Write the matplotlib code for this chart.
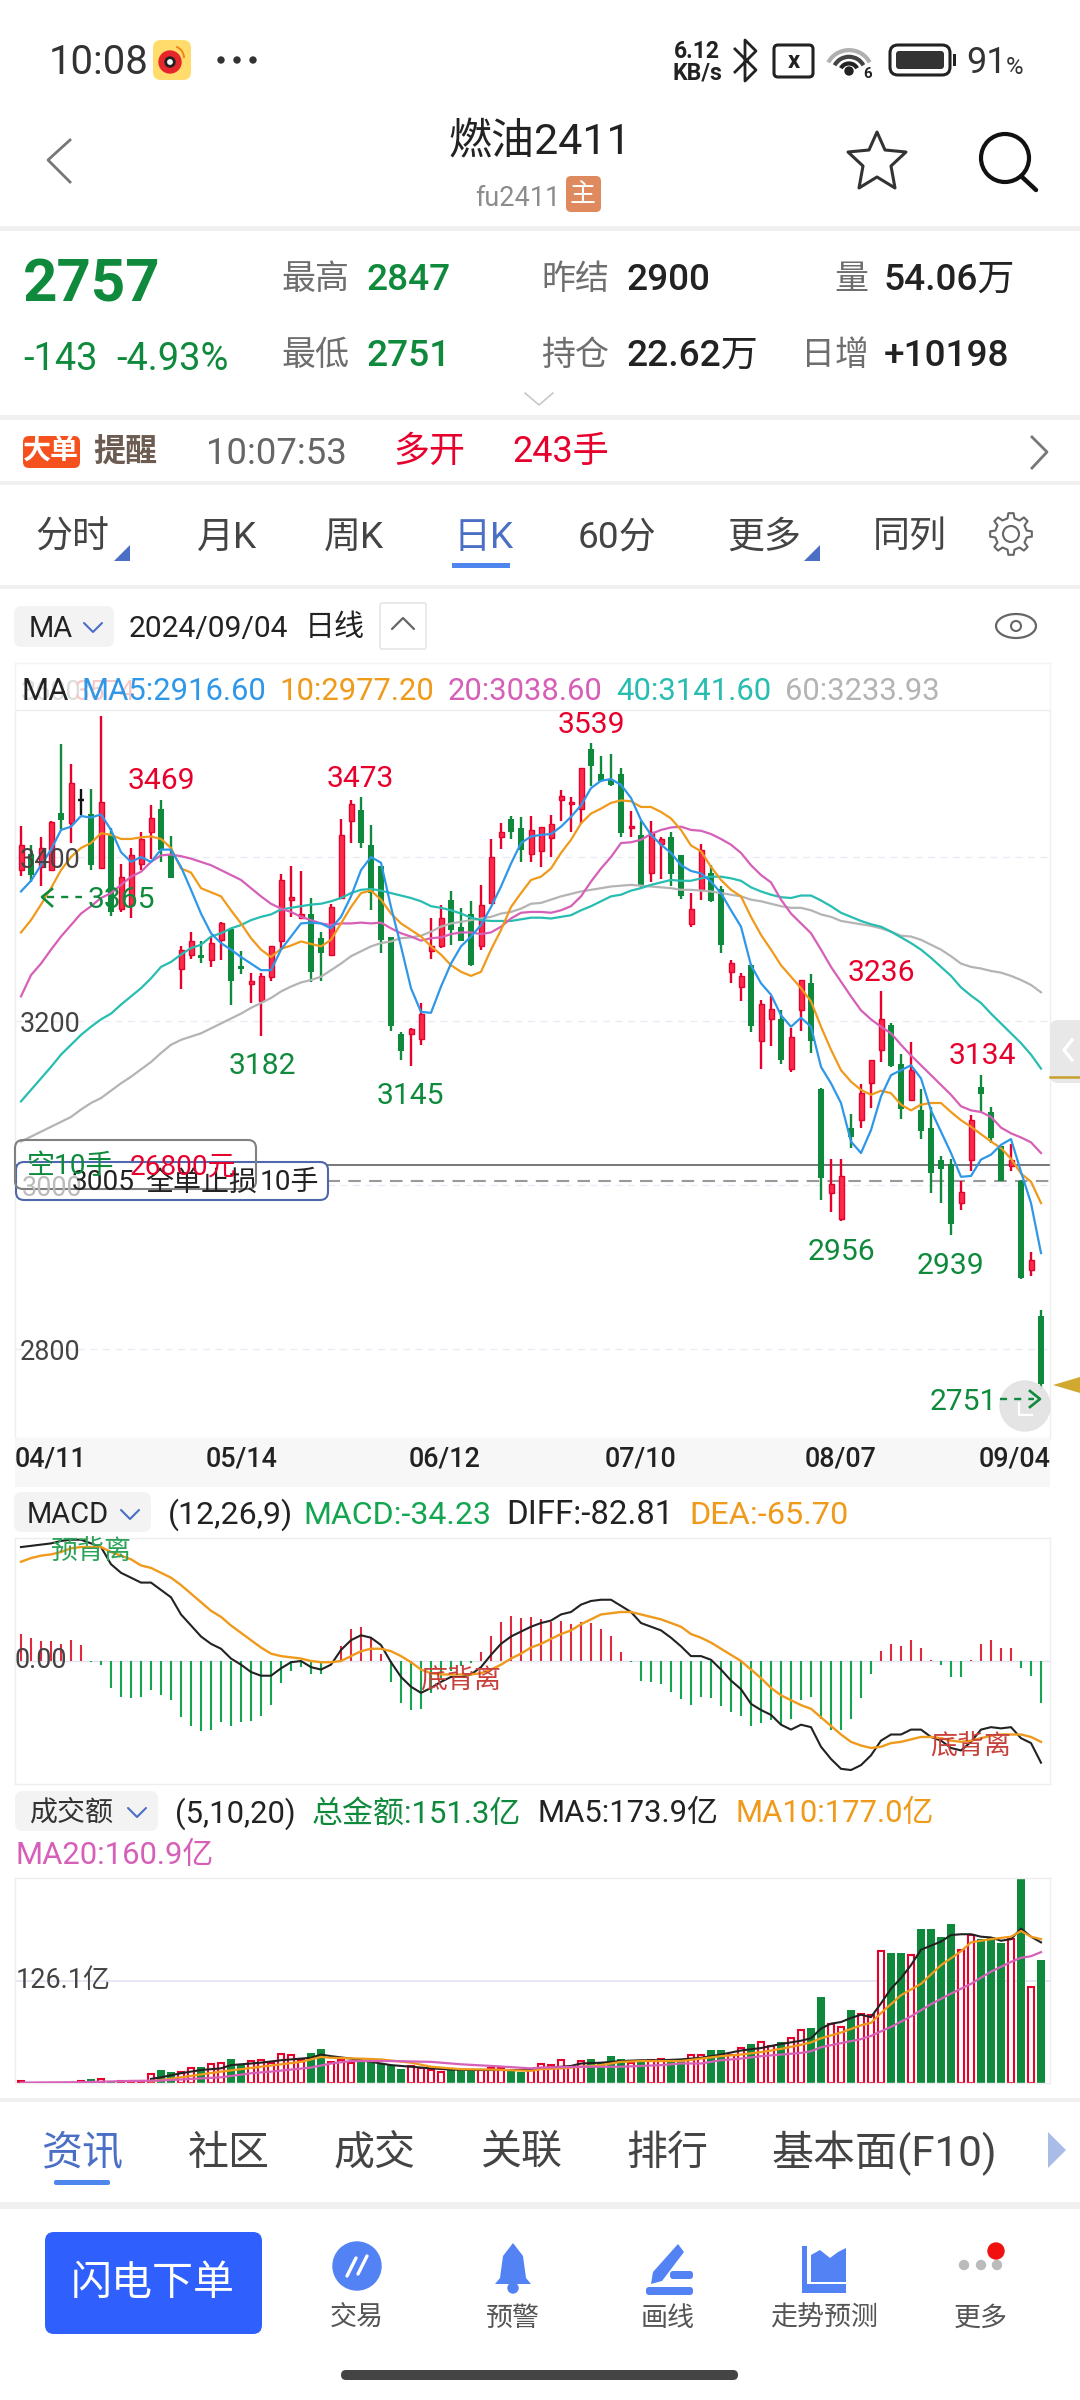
import math

import matplotlib
matplotlib.use('Agg')
import matplotlib.pyplot as plt
from matplotlib.patches import Arc, Circle, FancyBboxPatch, Polygon, Rectangle

plt.rcParams['font.family'] = ['Roboto', 'Noto Sans CJK SC', 'DejaVu Sans']

W, H = 1080, 2400

# daily candles
opens = [3384, 3404, 3388, 3384, 3454, 3441, 3470, 3453, 3387, 3427,
         3337, 3341, 3392, 3430, 3458, 3404, 3264, 3280, 3280, 3275,
         3299, 3312, 3267, 3245, 3224, 3254, 3297, 3347, 3326, 3331,
         3301, 3281, 3350, 3444, 3457, 3415, 3389, 3303, 3184, 3184,
         3178, 3285, 3291, 3348, 3315, 3330, 3291, 3344, 3424, 3446,
         3435, 3404, 3407, 3423, 3469, 3465, 3459, 3532, 3501, 3494,
         3501, 3435, 3427, 3380, 3416, 3424, 3402, 3318, 3360, 3380,
         3361, 3260, 3241, 3268, 3176, 3203, 3202, 3142, 3213, 3246,
         3117, 2990, 2959, 3070, 3079, 3124, 3165, 3195, 3148, 3104,
         3092, 3069, 3031, 3026, 2978, 3030, 3120, 3089, 3047, 3023,
         3005, 2896, 2840]
closes = [3415, 3378, 3411, 3443, 3445, 3490, 3470, 3390, 3467, 3333,
          3376, 3402, 3422, 3447, 3409, 3375, 3287, 3298, 3277, 3295,
          3320, 3249, 3264, 3249, 3255, 3291, 3372, 3351, 3330, 3260,
          3283, 3339, 3427, 3465, 3417, 3356, 3299, 3194, 3163, 3190,
          3209, 3291, 3326, 3311, 3298, 3268, 3341, 3400, 3431, 3430,
          3408, 3433, 3436, 3440, 3474, 3467, 3509, 3511, 3493, 3488,
          3429, 3438, 3365, 3430, 3422, 3379, 3352, 3336, 3409, 3346,
          3293, 3271, 3255, 3194, 3221, 3215, 3152, 3180, 3250, 3176,
          3009, 3001, 3011, 3059, 3112, 3152, 3203, 3145, 3093, 3140,
          3066, 3015, 3020, 2952, 2991, 3079, 3111, 3057, 3005, 3030,
          2886, 2909, 2757]
highs = [3438, 3415, 3424, 3444, 3538, 3513, 3483, 3483, 3572, 3435,
         3392, 3411, 3430, 3464, 3469, 3426, 3291, 3309, 3297, 3302,
         3321, 3313, 3285, 3258, 3259, 3291, 3379, 3389, 3383, 3350,
         3309, 3343, 3446, 3469, 3473, 3439, 3389, 3303, 3186, 3191,
         3222, 3326, 3341, 3359, 3338, 3346, 3366, 3422, 3442, 3450,
         3449, 3450, 3437, 3451, 3482, 3473, 3509, 3539, 3523, 3526,
         3508, 3456, 3444, 3444, 3425, 3430, 3402, 3356, 3416, 3390,
         3365, 3275, 3259, 3269, 3226, 3230, 3214, 3192, 3250, 3257,
         3118, 3032, 3032, 3087, 3123, 3152, 3236, 3198, 3160, 3175,
         3117, 3095, 3035, 3032, 3005, 3085, 3134, 3095, 3048, 3050,
         3006, 2918, 2847]
lows = [3377, 3370, 3365, 3384, 3434, 3417, 3451, 3384, 3387, 3328,
        3333, 3326, 3384, 3398, 3394, 3375, 3239, 3276, 3271, 3266,
        3274, 3219, 3257, 3222, 3182, 3249, 3287, 3327, 3326, 3248,
        3249, 3281, 3350, 3417, 3411, 3335, 3283, 3188, 3152, 3145,
        3171, 3276, 3289, 3293, 3297, 3267, 3287, 3344, 3410, 3422,
        3394, 3394, 3388, 3400, 3444, 3431, 3440, 3486, 3492, 3486,
        3425, 3425, 3362, 3370, 3373, 3365, 3349, 3315, 3348, 3345,
        3283, 3246, 3225, 3187, 3142, 3170, 3148, 3138, 3188, 3161,
        2982, 2967, 2956, 3045, 3070, 3094, 3150, 3144, 3080, 3103,
        3056, 2990, 2978, 2939, 2969, 3017, 3089, 3051, 3005, 3017,
        2885, 2889, 2751]

ma5 = [3358, 3371, 3390, 3409, 3433, 3437, 3450, 3448, 3452, 3433,
       3406, 3394, 3400, 3394, 3409, 3409, 3388, 3360, 3331, 3307,
       3295, 3287, 3278, 3270, 3262, 3262, 3287, 3303, 3319, 3320,
       3319, 3313, 3327, 3352, 3384, 3400, 3393, 3339, 3291, 3240,
       3211, 3210, 3242, 3270, 3291, 3303, 3317, 3339, 3364, 3392,
       3417, 3425, 3427, 3428, 3437, 3449, 3463, 3484, 3493, 3495,
       3488, 3472, 3445, 3427, 3415, 3405, 3390, 3383, 3380, 3370,
       3356, 3335, 3315, 3268, 3246, 3232, 3207, 3193, 3204, 3193,
       3144, 3124, 3100, 3053, 3039, 3067, 3108, 3134, 3140, 3146,
       3130, 3091, 3065, 3039, 3010, 3011, 3031, 3037, 3049, 3056,
       3016, 2978, 2917]
ma10 = [3308, 3323, 3342, 3362, 3384, 3400, 3411, 3417, 3429, 3427,
        3422, 3422, 3424, 3425, 3422, 3411, 3386, 3381, 3362, 3357,
        3352, 3335, 3319, 3301, 3287, 3278, 3288, 3292, 3297, 3294,
        3291, 3299, 3319, 3339, 3356, 3359, 3348, 3331, 3319, 3311,
        3303, 3291, 3281, 3268, 3260, 3255, 3260, 3287, 3311, 3339,
        3356, 3372, 3376, 3386, 3405, 3421, 3441, 3453, 3459, 3466,
        3469, 3468, 3461, 3461, 3455, 3447, 3433, 3414, 3407, 3388,
        3372, 3360, 3352, 3327, 3305, 3287, 3268, 3254, 3240, 3224,
        3193, 3165, 3140, 3126, 3116, 3110, 3115, 3112, 3098, 3091,
        3098, 3100, 3100, 3089, 3079, 3071, 3062, 3053, 3045, 3032,
        3014, 3004, 2978]
ma20 = [3230, 3256, 3270, 3287, 3303, 3317, 3331, 3340, 3350, 3356,
        3366, 3376, 3382, 3394, 3402, 3403, 3401, 3398, 3394, 3390,
        3384, 3378, 3372, 3362, 3352, 3343, 3337, 3333, 3327, 3323,
        3319, 3317, 3319, 3319, 3320, 3319, 3320, 3313, 3307, 3303,
        3298, 3301, 3302, 3306, 3308, 3308, 3306, 3308, 3315, 3325,
        3332, 3333, 3333, 3332, 3335, 3340, 3352, 3370, 3386, 3400,
        3417, 3418, 3421, 3428, 3433, 3436, 3437, 3433, 3432, 3428,
        3422, 3415, 3405, 3390, 3378, 3369, 3348, 3331, 3319, 3307,
        3287, 3266, 3248, 3230, 3213, 3202, 3193, 3185, 3171, 3158,
        3146, 3134, 3122, 3110, 3096, 3091, 3089, 3083, 3070, 3063,
        3058, 3052, 3039]
ma40 = [3102, 3116, 3130, 3144, 3159, 3171, 3183, 3193, 3202, 3209,
        3220, 3230, 3240, 3252, 3266, 3272, 3281, 3289, 3293, 3303,
        3307, 3313, 3317, 3323, 3327, 3330, 3336, 3338, 3340, 3342,
        3343, 3346, 3350, 3356, 3360, 3361, 3359, 3356, 3353, 3350,
        3346, 3340, 3338, 3335, 3331, 3326, 3323, 3322, 3322, 3322,
        3324, 3326, 3326, 3325, 3327, 3329, 3335, 3340, 3346, 3352,
        3354, 3359, 3362, 3366, 3369, 3372, 3371, 3371, 3374, 3376,
        3376, 3374, 3371, 3363, 3358, 3354, 3351, 3350, 3353, 3353,
        3347, 3340, 3332, 3327, 3322, 3318, 3315, 3309, 3302, 3295,
        3287, 3277, 3266, 3255, 3241, 3231, 3222, 3209, 3197, 3185,
        3173, 3159, 3142]
ma60 = [3053, 3059, 3065, 3071, 3077, 3083, 3092, 3100, 3106, 3115,
        3124, 3132, 3141, 3150, 3161, 3171, 3177, 3181, 3185, 3191,
        3197, 3203, 3209, 3216, 3222, 3228, 3236, 3242, 3247, 3250,
        3254, 3262, 3270, 3279, 3285, 3291, 3295, 3297, 3301, 3302,
        3304, 3309, 3315, 3319, 3321, 3323, 3325, 3327, 3331, 3333,
        3337, 3343, 3344, 3348, 3352, 3355, 3358, 3360, 3362, 3364,
        3365, 3366, 3365, 3364, 3363, 3362, 3360, 3360, 3359, 3358,
        3356, 3354, 3352, 3348, 3346, 3343, 3340, 3338, 3338, 3335,
        3330, 3327, 3322, 3320, 3318, 3316, 3313, 3309, 3304, 3303,
        3299, 3293, 3287, 3279, 3270, 3266, 3264, 3261, 3259, 3255,
        3250, 3244, 3235]

price_ticks = [3400, 3200, 3000, 2800]
position_price = 3024
stop_price = 3005

macd_hist = [22, 19, 16, 16, 14, 17, 13, -1, -3, -22, -29, -30, -29, -24, -28, -32,
             -46, -53, -57, -56, -50, -53, -50, -49, -45, -36, -18, -8, -5, -11, -11, 0,
             12, 26, 28, 19, 6, -17, -34, -40, -39, -26, -14, -8, -4, -2, 7, 20, 32, 37, 35, 36,
             34, 32, 33, 30, 32, 31, 26, 20, 7, -1, -16, -17, -19, -25, -31, -36,
             -29, -30, -37, -42, -45, -53, -51, -48, -52, -47, -32, -29, -47, -56, -56, -47,
             -30, -11, 8, 14, 12, 17, 11, 1, -3, -13, -13, 0.5, 14, 17, 11, 11, -6, -12, -34]
macd_dif = [93, 94, 95, 96, 98, 99, 99, 96, 93, 79, 72, 68, 64, 64, 58, 52, 38, 29, 20, 14,
            10, 2, -3, -9, -12, -12, -6, -1, 0, -5, -7, -3, 9, 17, 21, 19, 13, -1, -13, -21,
            -26, -22, -17, -13, -13, -11, -5, 5, 14, 20, 24, 28,
            31, 33, 38, 40, 46, 49, 50, 50, 45, 40, 31, 28, 25, 19, 12, 4, 4, 1, -7, -16,
            -23, -35, -40, -44, -52, -56, -52, -54, -70, -80, -88, -89, -85, -77, -65, -60,
            -60, -56, -56, -62, -65, -71, -73, -66, -56, -54, -55, -54, -63, -67, -83]
macd_dea = [81, 84, 86, 87, 89, 92, 93, 93, 93, 89, 86, 83, 78, 76, 72, 68, 62, 55, 48, 41,
            36, 29, 23, 17, 11, 6, 4, 3, 2, 0, -1, -1, 0, 4, 8, 10, 10, 8, 4, -1,
            -7, -10, -11, -11, -11, -11, -10, -7, -3, 2, 6, 11,
            14, 18, 22, 25, 30, 34, 38, 39, 40, 40, 38, 36, 34, 31, 28, 22, 19, 15, 10, 5,
            0, -7, -14, -22, -28, -32, -36, -39, -46, -53, -60, -66, -69, -71, -70, -67,
            -66, -64, -62, -62, -63, -65, -66, -65, -63, -61, -60, -60, -60, -62, -66]

# turnover in 亿
volume = [2, 0.5, 0.5, 0.5, 0.5, 0.5, 3, 4.5, 4.5, 2.5, 2.5, 2, 2,
          11, 16, 14, 13, 18, 20, 23, 24, 29, 22, 27, 28, 25, 36, 34, 28, 37, 42, 26, 28,
          24, 26, 26, 24, 22, 17, 21, 19, 16, 14, 18, 16, 15, 16, 18, 18, 16, 14, 16,
          23, 22, 28, 20, 27, 30, 25, 33, 29, 25, 28, 28, 30, 28, 28, 34, 34, 41, 41, 35,
          43, 48, 51, 45, 51, 55, 65, 68, 106, 73, 69, 90, 85, 84, 162, 160, 160, 158,
          189, 189, 180, 195, 164, 182, 177, 180, 172, 177, 252, 118, 151]
vol_ma5_days = [13, 14, 16, 18, 20, 21, 22, 24, 26, 28, 29, 30, 31, 33, 35, 37, 39, 41, 43, 45,
                47, 49, 51, 52, 54, 55, 56, 58, 60, 62, 64, 66, 68, 70, 72, 74, 76, 78, 79, 80,
                81, 82, 83, 84, 85, 86, 87, 88, 89, 90, 91, 92, 93, 94, 95, 96, 97, 98, 99, 100,
                101, 102]
vol_ma5 = [5, 7, 12, 16, 18, 22, 23, 25, 28, 30, 31, 35, 33, 30, 26, 22, 20, 18, 16.5, 16,
           16, 16, 16, 18, 20, 21, 24, 25, 27, 28, 28, 29, 31, 35, 40, 43, 48, 52, 55, 67,
           73, 75, 80, 84, 81, 98, 116, 129, 145, 164, 169, 174, 182, 183, 183, 180, 179, 175, 177, 190,
           180, 173]
vol_ma10_days = [13, 16, 20, 24, 28, 30, 31, 34, 36, 39, 41, 44, 47, 51, 52, 54, 56, 58, 60, 62,
                 64, 66, 68, 70, 72, 74, 76, 78, 79, 80, 82, 84, 85, 86, 88, 90, 92, 94, 95, 97,
                 99, 100, 101, 102]
vol_ma10 = [2, 7, 14, 20, 26, 32, 31, 30, 29, 25, 20, 17, 16.5, 15, 17, 18, 20, 22, 26, 27,
            27, 27, 30, 33, 35, 38, 42, 47, 50, 55, 62, 71, 74, 86, 108, 122, 145, 162, 173, 177,
            180, 187, 180, 177]
vol_ma20_days = [0, 6, 11, 14, 17, 20, 23, 25, 29, 31, 33, 37, 41, 44, 47, 51, 52, 56, 60, 62,
                 64, 66, 68, 70, 72, 74, 76, 78, 79, 80, 82, 84, 85, 87, 89, 91, 93, 95, 97, 99,
                 100, 101, 102]
vol_ma20 = [0.5, 1, 2.5, 3, 5, 7, 12, 14, 19, 24, 27, 27, 26, 23, 21, 18, 19, 20, 20, 21,
            22, 24, 24, 28, 30, 33, 35, 37, 39, 44, 49, 54, 58, 69, 82, 97, 110, 122, 137, 149,
            154, 156, 161]

date_labels = ['04/11', '05/14', '06/12', '07/10', '08/07', '09/04']

days = list(range(len(closes)))

RED = '#e8002d'
RED_FILL = '#ff2b4b'
GREEN = '#0f8a3c'
BLUE = '#4a6fc4'
C5, C10, C20, C40, C60 = '#2f97e8', '#f09a1c', '#d65fb8', '#27bdb0', '#b4b4b4'


def panel(x0, y0, x1, y1):
    # axes placed by screen pixels, one bar = 10 px
    ax = fig.add_axes([x0 / W, 1 - y1 / H, (x1 - x0) / W, (y1 - y0) / H])
    ax.set_xlim((x0 - 21) / 10, (x1 - 21) / 10)
    ax.set_xticks([])
    ax.set_yticks([])
    for s in ax.spines.values():
        s.set_color('#eeeeee')
        s.set_linewidth(1)
    return ax


def candle_color(i):
    if closes[i] > opens[i]:
        return RED
    if closes[i] < opens[i]:
        return GREEN
    return '#111111'


def txt(x, y, s, px, color='#222222', ha='left', weight='normal', **kw):
    # +5: matplotlib centres on the box, the app on the glyphs
    ui.text(x, y + 5, s, fontsize=px * 0.72, color=color, ha=ha, va='center', fontweight=weight, **kw)


def box(x0, y0, x1, y1, r, face='none', edge='none', lw=0, **kw):
    ui.add_patch(FancyBboxPatch((x0 + r, y0 + r), x1 - x0 - 2 * r, y1 - y0 - 2 * r,
                                boxstyle=f'round,pad={r},rounding_size={r}',
                                fc=face, ec=edge, lw=lw, **kw))


def chevron(x, y, dx, dy, color, lw=2):
    ui.plot([x - dx, x, x + dx], [y - dy, y, y - dy], color=color, lw=lw,
            solid_capstyle='round', solid_joinstyle='round')


fig = plt.figure(figsize=(W / 100, H / 100), dpi=100, facecolor='white')

# main price panel
ax = panel(15, 710, 1050, 1438)
ax.set_ylim(3200 - 417 / 0.82, 3200 + 311 / 0.82)
for p in price_ticks:
    ax.axhline(p, color='#ebebf6', lw=1, ls=(0, (5, 4)), zorder=1)
for i in days:
    c = candle_color(i)
    ax.vlines(i, lows[i], highs[i], color=c, lw=1.7, zorder=3)
    top, bot = max(opens[i], closes[i]), min(opens[i], closes[i])
    if c == RED:
        ax.bar(i, top - bot, 0.5, bottom=bot, color=RED_FILL, edgecolor=RED, linewidth=1, zorder=3)
    elif c == GREEN:
        ax.bar(i, top - bot, 0.6, bottom=bot, color=GREEN, zorder=3)
    else:
        ax.hlines(closes[i], i - 0.3, i + 0.3, color=c, lw=1.7, zorder=3)
for series, col in [(ma60, C60), (ma40, C40), (ma20, C20), (ma10, C10), (ma5, C5)]:
    ax.plot(days, series, color=col, lw=1.6, zorder=4)
ax.axhline(position_price, color='#777777', lw=1.4, zorder=2)
ax.axhline(stop_price, color='#999999', lw=1.5, ls=(0, (6, 4)), zorder=2)

# MACD panel
ax2 = panel(15, 1538, 1050, 1784)
ax2.set_ylim(-100.4, 100.4)
ax2.axhline(0, color='#e3e3ee', lw=1)
for i in days:
    ax2.vlines(i, 0, macd_hist[i], color='#e0293f' if macd_hist[i] > 0 else '#14a550', lw=1.5, zorder=2)
ax2.plot(days, macd_dif, color='#222222', lw=1.5, zorder=3)
ax2.plot(days, macd_dea, color=C10, lw=1.7, zorder=4)

# turnover panel
ax3 = panel(15, 1878, 1050, 2083)
ax3.set_ylim(0, 252.2)
ax3.axhline(126.1, color='#e8e8f4', lw=1.4, zorder=1)
for i in days:
    if closes[i] >= opens[i]:
        ax3.bar(i, volume[i], 0.58, color='white', edgecolor=RED, linewidth=1.5, zorder=2)
    else:
        ax3.bar(i, volume[i], 0.75, color=GREEN, zorder=2)
ax3.plot(vol_ma5_days, vol_ma5, color='#222222', lw=1.5, zorder=3)
ax3.plot(vol_ma10_days, vol_ma10, color=C10, lw=1.6, zorder=4)
ax3.plot(vol_ma20_days, vol_ma20, color=C20, lw=1.6, zorder=5)

# everything else is screen furniture, drawn in pixels
ui = fig.add_axes([0, 0, 1, 1], zorder=10)
ui.set_xlim(0, W)
ui.set_ylim(H, 0)
ui.axis('off')
ui.patch.set_alpha(0)

for y0, y1 in [(226, 231), (415, 420), (481, 485), (585, 589), (2098, 2102), (2202, 2209)]:
    ui.add_patch(Rectangle((0, y0), W, y1 - y0, color='#f0f0f0', lw=0))

# status bar
txt(49, 58, '10:08', 40, '#333333')
box(153, 40, 191, 80, 8, face='#ffdc6b')
ui.add_patch(Circle((170, 62), 11, color='#e6262c'))
ui.add_patch(Circle((170, 62), 5, color='#222222'))
ui.add_patch(Circle((170, 62), 2.2, color='white'))
ui.add_patch(Arc((172, 58), 24, 24, theta1=-70, theta2=0, color='#f08a1c', lw=1.5))
for x in (221, 237, 253):
    ui.add_patch(Circle((x, 60), 3, color='#333333'))
txt(697, 47, '6.12', 23, '#222222', ha='center', weight='bold')
txt(697, 68, 'KB/s', 23, '#222222', ha='center', weight='bold')
ui.plot([735, 756, 745, 745, 756, 735], [49, 70, 81, 40, 51, 72], color='#222222', lw=2)
box(774, 45, 813, 77, 4, edge='#222222', lw=2.2)
txt(794, 57, 'x', 24, '#222222', ha='center', weight='bold')
for r, col in [(46, '#b0b0b0'), (32, '#444444'), (18, '#222222')]:
    ui.add_patch(Arc((849, 72), r, r * 0.95, theta1=205, theta2=335, color=col, lw=3))
ui.add_patch(Circle((849, 71), 4, color='#222222'))
txt(868, 69, '6', 15, '#222222', ha='center', weight='bold')
box(890, 45, 950, 75, 8, edge='#222222', lw=2.2)
box(896, 51, 944, 69, 3, face='#333333')
ui.add_patch(Rectangle((953, 54), 3, 12, color='#222222', lw=0))
txt(966, 58, '91', 36, '#333333')
txt(1006, 62, '%', 24, '#333333')

# title bar
ui.plot([70, 48, 70], [140, 160, 182], color='#777777', lw=2)
txt(540, 138, '燃油2411', 43, '#222222', ha='center')
txt(475, 193, 'fu2411', 27, '#8c8c8c')
box(566, 176, 601, 212, 5, face='#df8a5e')
txt(583, 190, '主', 26, 'white', ha='center')
ui.add_patch(Polygon([(877, 132), (885, 150), (906, 152), (891, 166), (895, 188), (877, 177),
                      (859, 188), (863, 166), (848, 152), (869, 150)], closed=True,
                     fc='none', ec='#333333', lw=2.2, joinstyle='round'))
ui.add_patch(Circle((1005, 158), 24, fc='none', ec='#111111', lw=3))
ui.plot([1021, 1036], [176, 190], color='#111111', lw=3.2, solid_capstyle='round')

# quote block
txt(23, 281, '2757', 60, GREEN, weight='bold')
txt(23, 355, '-143', 38, GREEN)
txt(116, 355, '-4.93%', 38, GREEN)
for x, y, s in [(281, 275, '最高'), (281, 351, '最低'), (541, 275, '昨结'), (541, 351, '持仓'),
                (834, 275, '量'), (801, 351, '日增')]:
    txt(x, y, s, 34, '#6e6e6e')
txt(367, 275, '2847', 37, GREEN, weight='medium')
txt(367, 351, '2751', 37, GREEN, weight='medium')
txt(626, 275, '2900', 37, '#222222', weight='medium')
txt(626, 351, '22.62万', 37, '#222222', weight='medium')
txt(884, 275, '54.06万', 37, '#222222', weight='medium')
txt(884, 351, '+10198', 37, '#222222', weight='medium')
chevron(539, 405, 14, 12, '#c8c8c8', lw=1.2)

# big-order strip
box(23, 436, 80, 468, 6, face='#f4511e')
txt(51, 447, '大单', 28, 'white', ha='center', weight='bold')
txt(93, 447, '提醒', 32, '#6b5b50', weight='bold', style='italic')
txt(206, 449, '10:07:53', 36.5, '#666666')
txt(393, 447, '多开', 36, RED)
txt(512, 447, '243手', 36, RED)
ui.plot([1032, 1047, 1032], [437, 452, 468], color='#777777', lw=2)

# period tabs
for x, s in [(35, '分时'), (197, '月K'), (324, '周K'), (578, '60分'), (727, '更多'), (873, '同列')]:
    txt(x, 533, s, 37, '#444444')
txt(453, 533, '日K', 37, BLUE)
ui.add_patch(Rectangle((452, 563), 58, 5, color='#4f86ee', lw=0))
ui.add_patch(Polygon([(130, 545), (130, 561), (114, 561)], color=BLUE, lw=0))
ui.add_patch(Polygon([(820, 545), (820, 561), (804, 561)], color=BLUE, lw=0))
ui.add_patch(Circle((1011, 534), 8, fc='none', ec='#666666', lw=1.5))
gear = []
for k in range(8):
    for off, r in [(-0.28, 16), (-0.16, 21), (0.16, 21), (0.28, 16)]:
        a = (k + off) * math.pi / 4
        gear.append((1011 + r * math.cos(a), 534 + r * math.sin(a)))
ui.add_patch(Polygon(gear, closed=True, fc='none', ec='#666666', lw=1.5, joinstyle='round'))

# MA header
box(14, 606, 114, 647, 8, face='#f3f3f3')
txt(51, 624, 'MA', 29, '#222222', ha='center')
chevron(93, 632, 9, 9, BLUE, lw=1.5)
txt(129, 624, '2024/09/04', 30, '#222222')
txt(305, 623, '日线', 30, '#222222')
box(380, 603, 426, 649, 2, edge='#e2e2e2', lw=1)
chevron(403, 618, 11, -11, '#666666', lw=1.6)
ui.add_patch(Arc((1016, 626), 40, 24, color='#666666', lw=1.6))
ui.add_patch(Circle((1016, 626), 5, fc='none', ec='#666666', lw=1.5))

ui.plot([15, 1050], [663, 663], color='#f3f3f3', lw=1)
ui.plot([15, 15], [663, 710], color='#f3f3f3', lw=1)
ui.plot([1050, 1050], [663, 710], color='#f3f3f3', lw=1)
txt(21, 688, '3600', 27, '#dddddd')
txt(75, 688, '3574', 27, '#f7c8c8')
txt(21, 686, 'MA', 31, '#222222')
txt(82, 686, 'MA5:2916.60', 31, C5)
txt(279, 686, '10:2977.20', 31, C10)
txt(448, 686, '20:3038.60', 31, C20)
txt(616, 686, '40:3141.60', 31, C40)
txt(785, 686, '60:3233.93', 31, C60)

# price axis labels and high/low marks
txt(20, 855, '3400', 27, '#444444')
txt(20, 1019, '3200', 27, '#444444')
txt(20, 1347, '2800', 27, '#444444')
for x, y, s in [(161, 776, '3469'), (360, 774, '3473'), (591, 720, '3539'), (881, 968, '3236'), (982, 1051, '3134')]:
    txt(x, y, s, 30, RED, ha='center')
for x, y, s in [(262, 1061, '3182'), (410, 1091, '3145'), (841, 1247, '2956'), (950, 1261, '2939')]:
    txt(x, y, s, 30, GREEN, ha='center')
txt(121, 895, '3365', 30, GREEN, ha='center')
ui.plot([47, 82], [897, 897], color=GREEN, lw=1.7, ls=(0, (3, 3)))
ui.plot([52, 42, 52], [889, 897, 906], color=GREEN, lw=1.9)

# position boxes
box(16, 1162, 328, 1200, 8, face='white', edge='#4f68ad', lw=1.5)
txt(22, 1183, '3000', 27, '#bbbbbb')
txt(72, 1178, '3005', 28, '#222222')
txt(145, 1178, '全单止损', 28, '#222222')
txt(260, 1178, '10手', 28, '#222222')
box(15, 1140, 256, 1189, 8, edge='#808080', lw=1.5)
txt(27, 1162, '空10手', 28, GREEN)
txt(130, 1162, '26800元', 28, RED)

# right edge widgets
box(1050, 1020, 1088, 1083, 8, face='#e8e8e8')
ui.plot([1072, 1064, 1072], [1040, 1050, 1060], color='white', lw=2.4)
ui.plot([1050, 1080], [1077, 1077], color='#c8a030', lw=1.8)
ui.add_patch(Polygon([(1053, 1385), (1080, 1377), (1080, 1393)], color='#d0a92e', lw=0))
ui.add_patch(Circle((1025, 1406), 25, color='#e2e2e2', alpha=0.9))
ui.plot([1019, 1019, 1032], [1403, 1415, 1415], color='white', lw=1.6)
txt(963, 1397, '2751', 30, GREEN, ha='center')
ui.plot([1000, 1034], [1399, 1399], color=GREEN, lw=1.7, ls=(0, (3, 3)))
ui.plot([1030, 1040, 1030], [1391, 1399, 1407], color=GREEN, lw=1.9)

# date strip
ui.add_patch(Rectangle((15, 1438), 1035, 49, color='#f7f7f7', lw=0))
txt(15, 1454, date_labels[0], 27, '#222222', weight='medium')
for x, s in zip((242, 445, 641, 841), date_labels[1:5]):
    txt(x, 1454, s, 27, '#222222', ha='center', weight='medium')
txt(1051, 1454, date_labels[5], 27, '#222222', ha='right', weight='medium')

# MACD header and labels
box(14, 1492, 151, 1532, 8, face='#f3f3f3')
txt(68, 1510, 'MACD', 29, '#222222', ha='center')
chevron(130, 1519, 9, 9, BLUE, lw=1.5)
txt(168, 1510, '(12,26,9)', 32, '#222222')
txt(303, 1510, 'MACD:-34.23', 32, '#14a550')
txt(506, 1510, 'DIFF:-82.81', 33, '#222222')
txt(689, 1510, 'DEA:-65.70', 32.5, C10)
txt(15, 1656, '0.00', 27, '#444444')
txt(91, 1546, '预背离', 27, '#2ca35a', ha='center')
txt(461, 1675, '底背离', 27, '#c8403c', ha='center')
txt(971, 1741, '底背离', 27, '#c8403c', ha='center')

# turnover header
box(15, 1791, 158, 1831, 8, face='#f3f3f3')
txt(71, 1808, '成交额', 28, '#333333', ha='center')
chevron(137, 1817, 9, 9, BLUE, lw=1.5)
txt(175, 1809, '(5,10,20)', 31, '#222222')
txt(312, 1809, '总金额:151.3亿', 31, GREEN)
txt(538, 1809, 'MA5:173.9亿', 31, '#222222')
txt(735, 1809, 'MA10:177.0亿', 31, C10)
txt(15, 1851, 'MA20:160.9亿', 31, C20)
txt(16, 1975, '126.1亿', 27, '#444444')

# bottom tabs
txt(83, 2148, '资讯', 41, BLUE, ha='center')
for x, s in [(229, '社区'), (375, '成交'), (521, '关联'), (667, '排行')]:
    txt(x, 2148, s, 41, '#444444', ha='center')
txt(771, 2148, '基本面(F10)', 42, '#444444')
ui.add_patch(Polygon([(1048, 2132), (1066, 2150), (1048, 2168)], color='#a9bce8', lw=0))
box(54, 2180, 110, 2185, 2, face='#4f86ee')

# bottom bar
box(45, 2232, 262, 2334, 9, face='#2f5ffc')
txt(153, 2279, '闪电下单', 41, 'white', ha='center')
ICON = '#5382f5'
for x, s in [(357, '交易'), (513, '预警'), (668, '画线'), (824, '走势预测'), (981, '更多')]:
    txt(x, 2313, s, 27, '#555555', ha='center')
ui.add_patch(Circle((357, 2266), 24, color=ICON))
ui.plot([347, 356], [2276, 2258], color='white', lw=2.4, solid_capstyle='round')
ui.plot([358, 367], [2274, 2256], color='white', lw=2.4, solid_capstyle='round')
ui.add_patch(Polygon([(513, 2243), (523, 2256), (526, 2278), (531, 2284), (495, 2284), (500, 2278),
                      (503, 2256)], color=ICON, lw=0))
ui.add_patch(Circle((513, 2288), 5, color=ICON))
ui.add_patch(Polygon([(678, 2244), (684, 2252), (662, 2281), (651, 2284), (653, 2272)], color=ICON, lw=0))
box(670, 2271, 693, 2279, 3, face=ICON)
box(646, 2287, 693, 2295, 3, face=ICON)
ui.add_patch(Polygon([(802, 2246), (807, 2246), (807, 2284), (846, 2284), (846, 2293), (802, 2293)],
                     color=ICON, lw=0))
ui.add_patch(Polygon([(811, 2282), (811, 2255), (820, 2250), (830, 2258), (838, 2252), (846, 2248),
                      (846, 2282)], color=ICON, lw=0))
for x in (964, 981, 997):
    ui.add_patch(Circle((x, 2265), 4.5, color='#bbbbbb'))
ui.add_patch(Circle((996, 2251), 8, color='#f01010'))
box(341, 2370, 738, 2380, 5, face='#444444')

fig.savefig('out.png', dpi=100)
